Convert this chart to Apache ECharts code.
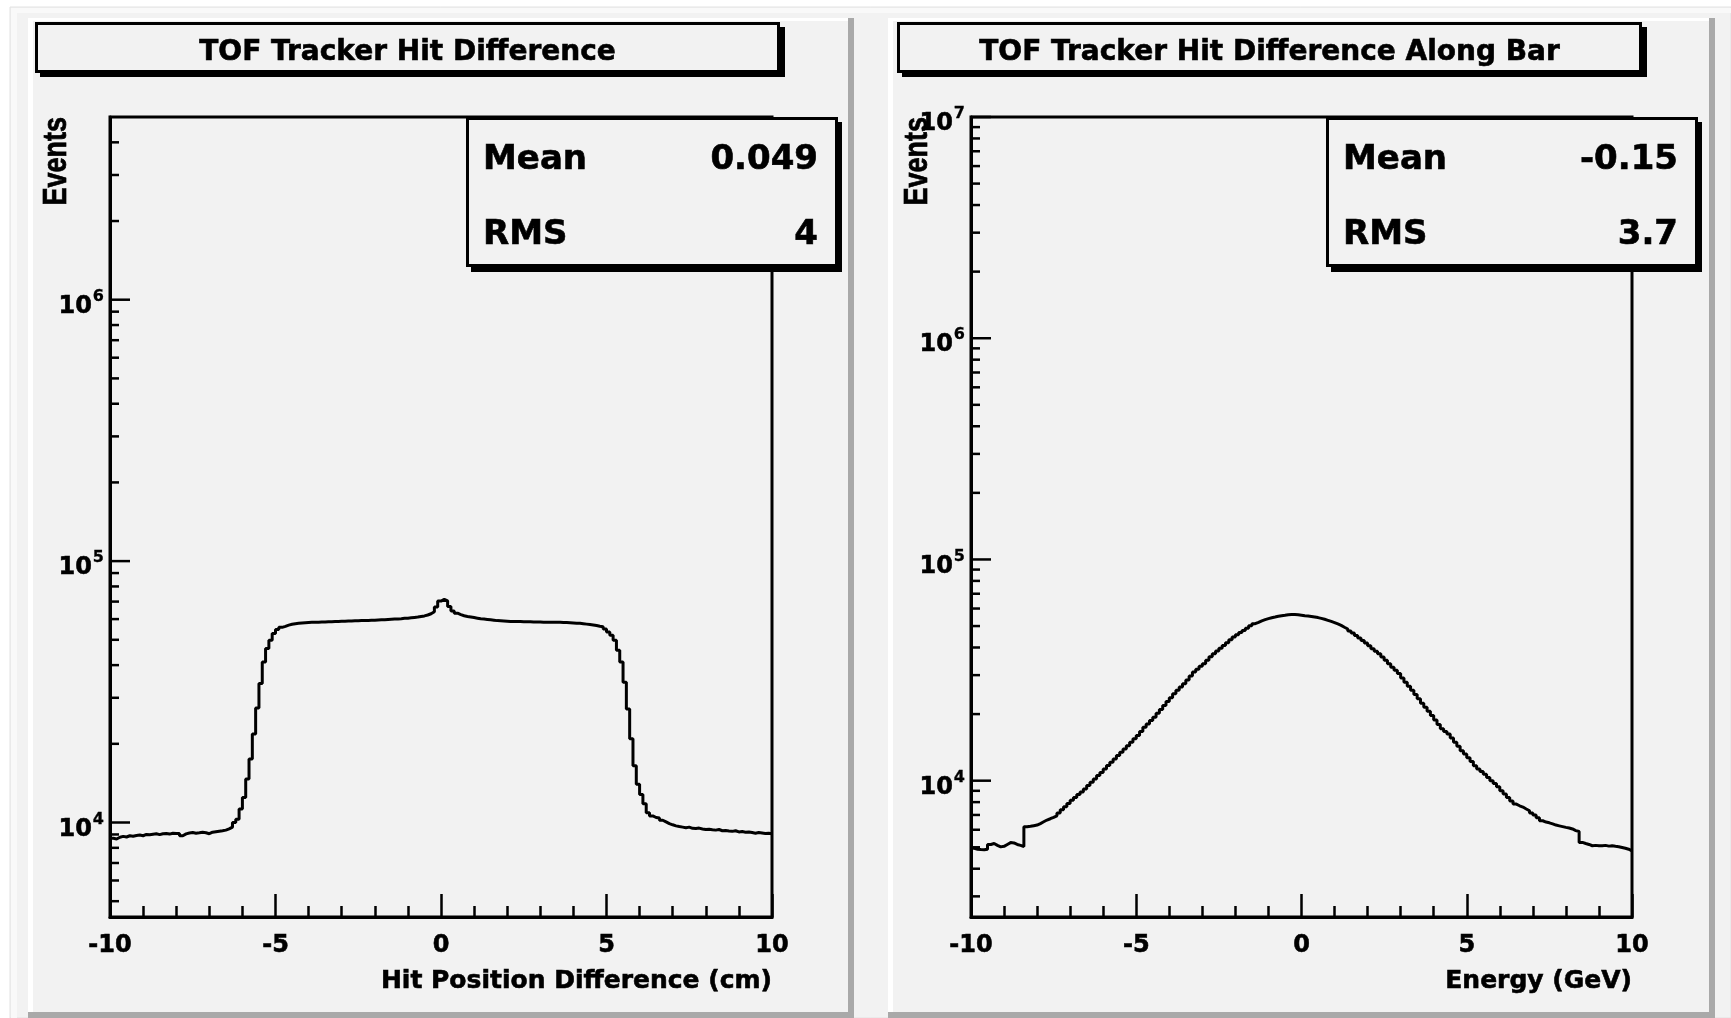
<!DOCTYPE html>
<html>
<head>
<meta charset="utf-8">
<script src="https://cdn.jsdelivr.net/npm/echarts@6/dist/echarts.min.js"></script>
<style>
  html, body { margin: 0; padding: 0; background: #ffffff; }
  #chart { width: 1731px; height: 1018px; }
</style>
</head>
<body>
<div id="chart"></div>
<script>
// ---- Histogram data: 200 bins of width 0.1 over [-10, 10] ----
const binLow = -10;
const binWidth = 0.1;

// TOF - tracker hit position difference (cm), counts per bin
const hitDiffCounts = [
  8700, 8650, 8780, 8850, 8800, 8900, 8860, 8920, 8950, 8900,
  9000, 8980, 9020, 9050, 8990, 9060, 9080, 9030, 9100, 9070,
  9080, 8900, 9050, 9120, 9150, 9100, 9130, 9170, 9140, 9060,
  9180, 9220, 9260, 9300, 9350, 9450, 9600, 10000, 10300, 11260,
  12470, 14680, 17500, 21800, 27400, 34000, 41100, 46300, 49800, 52800,
  54700, 55800, 56300, 56900, 57300, 57600, 57800, 58000, 58100, 58200,
  58300, 58400, 58400, 58500, 58500, 58600, 58600, 58700, 58800, 58900,
  58900, 59000, 59000, 59100, 59100, 59200, 59300, 59300, 59400, 59400,
  59500, 59600, 59700, 59800, 59900, 60000, 60100, 60200, 60400, 60500,
  60700, 60900, 61100, 61400, 61700, 62200, 62900, 64000, 66800, 70300,
  71400, 70500, 67000, 64500, 63200, 62400, 61800, 61400, 61100, 60800,
  60500, 60200, 60000, 59800, 59600, 59400, 59200, 59100, 59000, 58900,
  58800, 58800, 58700, 58700, 58600, 58600, 58600, 58500, 58500, 58500,
  58400, 58400, 58400, 58300, 58300, 58300, 58200, 58200, 58100, 58000,
  57900, 57800, 57600, 57400, 57200, 57000, 56700, 56300, 56100, 55000,
  53600, 52000, 49800, 45600, 41100, 34400, 27200, 20900, 16500, 14000,
  12800, 11800, 10900, 10600, 10450, 10400, 10200, 10050, 9900, 9800,
  9710, 9650, 9600, 9550, 9600, 9500, 9480, 9520, 9450, 9400,
  9420, 9380, 9350, 9400, 9300, 9320, 9280, 9250, 9300, 9200,
  9230, 9180, 9200, 9150, 9100, 9150, 9120, 9080, 9100, 9050
];

// TOF - tracker hit difference along the bar, counts per bin
const alongBarCounts = [
  4950, 4900, 4880, 4870, 4900, 5150, 5200, 5100, 5020, 5050,
  5150, 5250, 5230, 5150, 5100, 5040, 6190, 6220, 6260, 6300,
  6400, 6520, 6640, 6730, 6830, 6940, 7150, 7380, 7620, 7880,
  8150, 8400, 8650, 8900, 9170, 9500, 9830, 10170, 10550, 10900,
  11300, 11700, 12100, 12540, 13000, 13450, 13920, 14400, 14900, 15460,
  16000, 16700, 17430, 18050, 18700, 19350, 20150, 21000, 21880, 22800,
  23700, 24700, 25600, 26500, 27420, 28500, 29700, 30970, 31900, 32900,
  33800, 35000, 36300, 37520, 38600, 39700, 40860, 42000, 43300, 44570,
  45700, 46700, 47780, 48900, 50100, 51260, 52000, 52800, 53440, 54000,
  54500, 54900, 55320, 55650, 55950, 56260, 56350, 56350, 56260, 56000,
  55700, 55500, 55250, 54960, 54600, 54150, 53650, 53080, 52450, 51800,
  51100, 50350, 49400, 48500, 47500, 46460, 45350, 44200, 43050, 41870,
  40700, 39500, 38500, 37520, 36200, 35000, 33800, 32600, 31600, 30500,
  29100, 27860, 26700, 25600, 24500, 23440, 22400, 21500, 20600, 19690,
  18800, 17950, 17150, 16700, 16260, 15600, 14900, 14300, 13670, 13200,
  12700, 12200, 11690, 11300, 11000, 10700, 10350, 10000, 9700, 9400,
  9010, 8700, 8400, 8100, 7840, 7700, 7600, 7450, 7310, 7150,
  7000, 6800, 6590, 6500, 6450, 6380, 6300, 6250, 6200, 6150,
  6110, 6050, 5950, 5890, 5260, 5200, 5150, 5080, 5100, 5080,
  5080, 5100, 5060, 5080, 5050, 5030, 4990, 4950, 4900, 4820
];

// Axis ranges
const xRange = [-10, 10];
const xTickStep = 5;
const hitDiffYRange = [4350, 5e6];
const alongBarYRange = [2420, 1e7];

// Log-axis tick marks (labels are drawn at the powers of ten)
const hitDiffYTicks = [
  5000, 6000, 7000, 8000, 9000,
  10000, 20000, 30000, 40000, 50000, 60000, 70000, 80000, 90000,
  100000, 200000, 300000, 400000, 500000, 600000, 700000, 800000, 900000,
  1000000, 2000000, 3000000, 4000000
];
const alongBarYTicks = [
  3000, 4000, 5000, 6000, 7000, 8000, 9000,
  10000, 20000, 30000, 40000, 50000, 60000, 70000, 80000, 90000,
  100000, 200000, 300000, 400000, 500000, 600000, 700000, 800000, 900000,
  1000000, 2000000, 3000000, 4000000, 5000000, 6000000, 7000000, 8000000, 9000000,
  10000000
];

// Texts
const titles = ['TOF Tracker Hit Difference', 'TOF Tracker Hit Difference Along Bar'];
const xTitles = ['Hit Position Difference (cm)', 'Energy (GeV)'];
const yTitle = 'Events';
const statLabels = ['Mean', 'RMS'];
const statValues = [['0.049', '4'], ['-0.15', '3.7']];

// ---- helpers ----
function stepPoints(counts) {
  const pts = counts.map((c, i) => [binLow + i * binWidth, c]);
  pts.push([binLow + counts.length * binWidth, counts[counts.length - 1]]);
  return pts;
}

const FONT = '"DejaVu Sans", "Liberation Sans", sans-serif';
const PAD_BG = '#f2f2f2';

function boldText(text, size, align, extra) {
  return Object.assign({
    text: text, font: 'bold ' + size + 'px ' + FONT, fill: '#000',
    stroke: '#000', lineWidth: 0.6, align: align, verticalAlign: 'middle'
  }, extra || {});
}

function yTickItem(params, api) {
  const v = api.value(1);
  const p = api.coord([api.value(0), v]);
  const lg = Math.log10(v);
  const e = Math.round(lg);
  const major = Math.abs(lg - e) < 1e-6;
  const children = [{
    type: 'line',
    shape: { x1: p[0], y1: p[1], x2: p[0] + (major ? 20 : 9), y2: p[1] },
    style: { stroke: '#000', lineWidth: 2.5 }
  }];
  if (major) {
    children.push({ type: 'text', x: p[0] - 18, y: p[1] + 7, style: boldText('10', 24, 'right') });
    children.push({ type: 'text', x: p[0] - 6, y: p[1] - 3, style: boldText(String(e), 16, 'right', { lineWidth: 0.3 }) });
  }
  return { type: 'group', children };
}

// ---- layout ----
const panels = [
  { padX0: 28, padX1: 854, plotL: 110, plotR: 772, titleX: 35, statX: 466 },
  { padX0: 888, padX1: 1715, plotL: 971, plotR: 1632, titleX: 897, statX: 1326 }
];
const plotTop = 117, plotBottom = 917;

const graphics = [];
// canvas background
graphics.push({ type: 'rect', z: -100, shape: { x: 10, y: 7, width: 1721, height: 1011 },
  style: { fill: PAD_BG, stroke: '#e2e2e2', lineWidth: 1 } });
graphics.push({ type: 'rect', z: -99, shape: { x: 11, y: 8, width: 1720, height: 5 }, style: { fill: '#f9f9f9' } });
graphics.push({ type: 'rect', z: -99, shape: { x: 11, y: 8, width: 6, height: 1010 }, style: { fill: '#f9f9f9' } });

panels.forEach((pn, k) => {
  // pad with bevel
  graphics.push({ type: 'rect', z: -90, shape: { x: pn.padX0, y: 18, width: pn.padX1 - pn.padX0, height: 1010 }, style: { fill: '#a9a9a9' } });
  graphics.push({ type: 'rect', z: -89, shape: { x: pn.padX0, y: 18, width: pn.padX1 - pn.padX0 - 6, height: 994 }, style: { fill: '#ffffff' } });
  graphics.push({ type: 'rect', z: -88, shape: { x: pn.padX0 + 5, y: 21, width: pn.padX1 - pn.padX0 - 11, height: 991 }, style: { fill: PAD_BG } });

  // title box
  graphics.push({ type: 'rect', z: 100, shape: { x: pn.titleX + 5, y: 27, width: 745, height: 50 }, style: { fill: '#000' } });
  graphics.push({ type: 'rect', z: 101, shape: { x: pn.titleX + 1.5, y: 23.5, width: 742, height: 48 },
    style: { fill: PAD_BG, stroke: '#000', lineWidth: 3 } });
  graphics.push({ type: 'text', z: 102, x: pn.titleX + 372.5, y: 53,
    style: boldText(titles[k], 28, 'center') });

  // statistics box
  graphics.push({ type: 'rect', z: 100, shape: { x: pn.statX + 5, y: 122, width: 371, height: 150 }, style: { fill: '#000' } });
  graphics.push({ type: 'rect', z: 101, shape: { x: pn.statX + 1.5, y: 118.5, width: 369, height: 147 },
    style: { fill: PAD_BG, stroke: '#000', lineWidth: 3 } });
  statLabels.forEach((lab, r) => {
    const cy = r === 0 ? 160 : 235;
    graphics.push({ type: 'text', z: 102, x: pn.statX + 17, y: cy, style: boldText(lab, 34, 'left') });
    graphics.push({ type: 'text', z: 102, x: pn.statX + 352, y: cy, style: boldText(statValues[k][r], 34, 'right') });
  });

  // axis titles
  graphics.push({ type: 'text', z: 102, x: pn.plotR, y: 981, style: boldText(xTitles[k], 25, 'right') });
  graphics.push({ type: 'text', z: 102, x: pn.plotL - 53, y: plotTop, rotation: Math.PI / 2, scaleY: 1.2,
    style: { text: yTitle, font: 'bold 27px "Liberation Sans", sans-serif', fill: '#000', stroke: '#000', lineWidth: 0.6,
      align: 'right', verticalAlign: 'middle' } });
});

const chart = echarts.init(document.getElementById('chart'), null, { renderer: 'canvas' });

const grids = panels.map(pn => ({
  left: pn.plotL, top: plotTop, width: pn.plotR - pn.plotL, height: plotBottom - plotTop,
  show: true, borderColor: '#000', borderWidth: 3, backgroundColor: 'transparent'
}));

const xAxes = panels.map((pn, k) => ({
  type: 'value', gridIndex: k, min: xRange[0], max: xRange[1], interval: xTickStep,
  axisLine: { show: true, onZero: false, lineStyle: { color: '#000', width: 3 } },
  axisTick: { show: true, inside: true, length: 23, lineStyle: { color: '#000', width: 2.5 } },
  minorTick: { show: true, splitNumber: 5, length: 11, lineStyle: { color: '#000', width: 2.5 } },
  splitLine: { show: false },
  axisLabel: { show: true, margin: 17, color: '#000', fontFamily: FONT, fontWeight: 'bold', fontSize: 24,
    textBorderColor: '#000', textBorderWidth: 0.6 }
}));

const yRanges = [hitDiffYRange, alongBarYRange];
const yAxes = panels.map((pn, k) => ({
  type: 'log', logBase: 10, gridIndex: k, min: yRanges[k][0], max: yRanges[k][1],
  axisLine: { show: true, onZero: false, lineStyle: { color: '#000', width: 3 } },
  axisTick: { show: false }, minorTick: { show: false },
  axisLabel: { show: false }, splitLine: { show: false }
}));

const counts = [hitDiffCounts, alongBarCounts];
const tickSets = [hitDiffYTicks, alongBarYTicks];
const series = [];
panels.forEach((pn, k) => {
  series.push({
    type: 'line', xAxisIndex: k, yAxisIndex: k, step: 'end', symbol: 'none',
    data: stepPoints(counts[k]), clip: true, z: 5,
    lineStyle: { color: '#000', width: 3 }
  });
  series.push({
    type: 'custom', xAxisIndex: k, yAxisIndex: k, z: 6,
    data: tickSets[k].map(v => [xRange[0], v]),
    encode: { x: 0, y: 1 },
    renderItem: yTickItem
  });
});

chart.setOption({
  animation: false,
  backgroundColor: '#ffffff',
  grid: grids,
  xAxis: xAxes,
  yAxis: yAxes,
  series: series,
  graphic: { elements: graphics }
});
</script>
</body>
</html>
